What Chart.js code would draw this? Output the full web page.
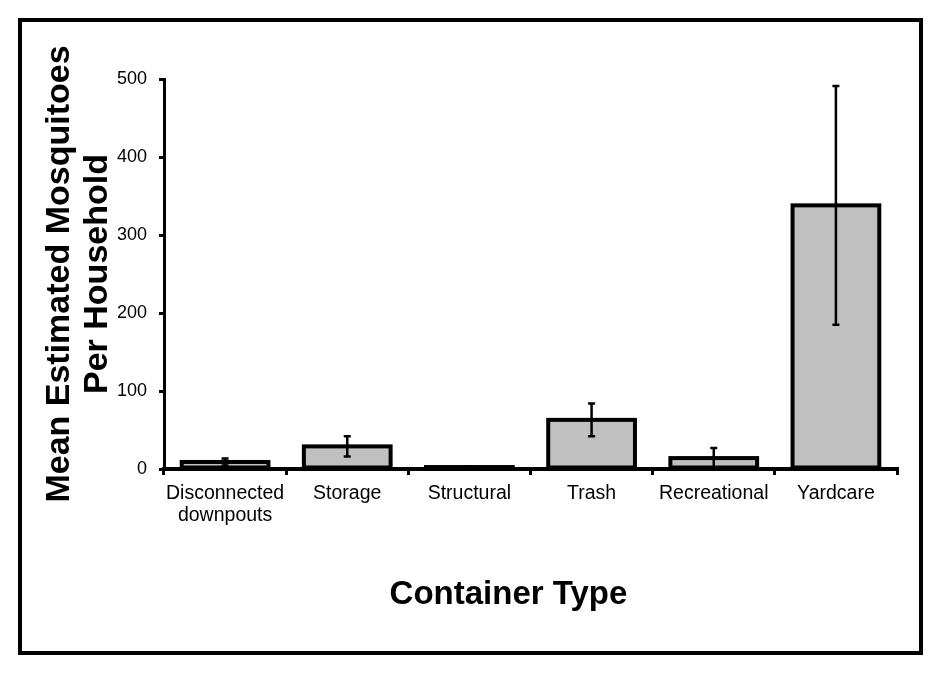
<!DOCTYPE html>
<html>
<head>
<meta charset="utf-8">
<script src="https://cdn.jsdelivr.net/npm/chart.js@4/dist/chart.umd.min.js"></script>
<style>
  body { margin: 0; background: #fff; }
  #wrap { position: relative; width: 942px; height: 676px; }
  #frame {
    position: absolute; left: 18px; top: 18px; width: 905px; height: 637px;
    border: 4px solid #000; box-sizing: border-box; pointer-events: none;
  }
</style>
</head>
<body>
<div id="wrap">
  <canvas id="chart" width="942" height="676"></canvas>
  <div id="frame"></div>
</div>
<script>
// data
const categories = [["Disconnected", "downpouts"], "Storage", "Structural", "Trash", "Recreational", "Yardcare"];
const meanMosquitoes = [9, 29, 2.5, 63, 14, 338];
const errorSize = [4.5, 13, 1, 21, 13, 153];
const yMin = 0;
const yMax = 500;
const yStep = 100;

const fontFamily = "'Liberation Sans', Arial, sans-serif";

// excel style outline: stroke centred on the bar edge
const barOutline = {
  id: "barOutline",
  afterDatasetsDraw(chart) {
    const ctx = chart.ctx;
    ctx.save();
    ctx.strokeStyle = "#000";
    ctx.lineWidth = 4;
    ctx.lineJoin = "miter";
    chart.getDatasetMeta(0).data.forEach((bar) => {
      ctx.strokeRect(bar.x - bar.width / 2, bar.y, bar.width, bar.base - bar.y);
    });
    ctx.restore();
  },
};

// draws the error bars on top of the bars
const errorBars = {
  id: "errorBars",
  afterDatasetsDraw(chart) {
    const ctx = chart.ctx;
    const yScale = chart.scales.y;
    const bars = chart.getDatasetMeta(0).data;
    ctx.save();
    ctx.strokeStyle = "#000";
    ctx.lineWidth = 2.5;
    bars.forEach((bar, i) => {
      const top = yScale.getPixelForValue(meanMosquitoes[i] + errorSize[i]);
      const bottom = yScale.getPixelForValue(meanMosquitoes[i] - errorSize[i]);
      ctx.beginPath();
      ctx.moveTo(bar.x, top);
      ctx.lineTo(bar.x, bottom);
      ctx.moveTo(bar.x - 3.5, top);
      ctx.lineTo(bar.x + 3.5, top);
      ctx.moveTo(bar.x - 3.5, bottom);
      ctx.lineTo(bar.x + 3.5, bottom);
      ctx.stroke();
    });
    ctx.restore();
  },
};

// x axis title, sits a bit left of the plot centre like the original
const xTitle = {
  id: "xTitle",
  afterDraw(chart) {
    const ctx = chart.ctx;
    const area = chart.chartArea;
    ctx.save();
    ctx.font = "bold 33px " + fontFamily;
    ctx.fillStyle = "#000";
    ctx.textAlign = "center";
    ctx.textBaseline = "middle";
    ctx.fillText("Container Type", area.left + area.width / 2 - 22, area.bottom + 126);
    ctx.restore();
  },
};

const ctx = document.getElementById("chart").getContext("2d");
new Chart(ctx, {
  type: "bar",
  data: {
    labels: categories,
    datasets: [
      {
        data: meanMosquitoes,
        backgroundColor: "#c0c0c0",
        borderWidth: 0,
        inflateAmount: 0,
        categoryPercentage: 1,
        barPercentage: 0.71,
      },
    ],
  },
  options: {
    responsive: false,
    animation: false,
    devicePixelRatio: 1,
    layout: { padding: { left: 0, right: 45, top: 79, bottom: 0 } },
    plugins: { legend: { display: false }, tooltip: { enabled: false } },
    scales: {
      x: {
        afterFit(scale) { scale.height = 207; },
        border: { color: "#000", width: 4 },
        grid: { offset: true, drawOnChartArea: false, color: "#000", lineWidth: 3, tickLength: 6 },
        ticks: {
          color: "#000",
          padding: 8,
          maxRotation: 0,
          autoSkip: false,
          font: { family: fontFamily, size: 19.5, lineHeight: 1.12 },
        },
      },
      y: {
        min: yMin,
        max: yMax,
        afterFit(scale) { scale.width = 164; },
        border: { color: "#000", width: 3 },
        grid: { drawOnChartArea: false, color: "#000", lineWidth: 3, tickLength: 5 },
        ticks: {
          stepSize: yStep,
          color: "#000",
          padding: 12,
          font: { family: fontFamily, size: 18 },
        },
        title: {
          display: true,
          text: ["Mean Estimated Mosquitoes", "Per Household"],
          color: "#000",
          padding: { top: 41, bottom: 0 },
          font: { family: fontFamily, size: 34, weight: "bold", lineHeight: 1.12 },
        },
      },
    },
  },
  plugins: [barOutline, errorBars, xTitle],
});
</script>
</body>
</html>
